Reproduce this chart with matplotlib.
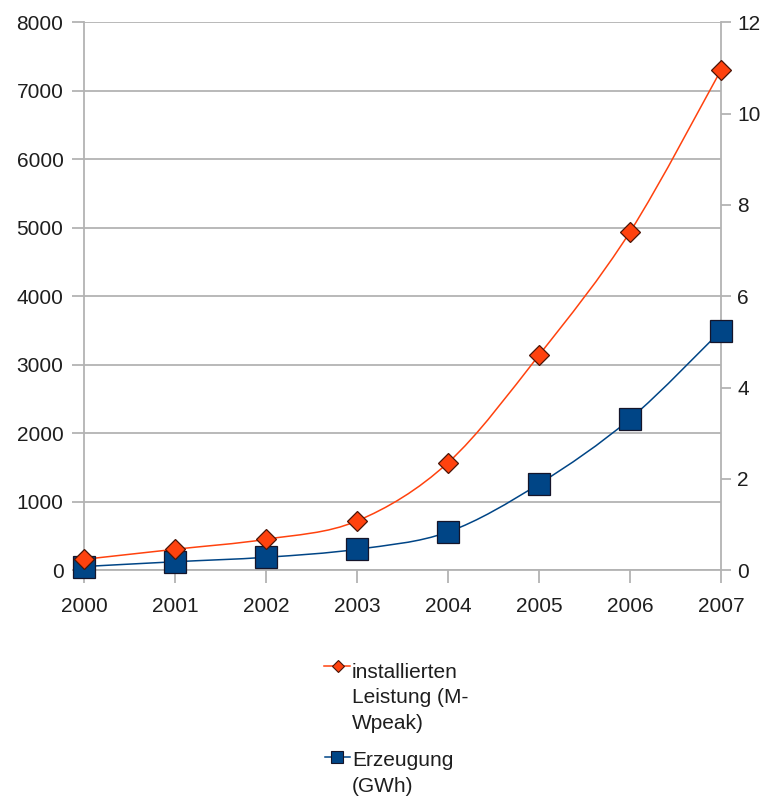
import matplotlib
matplotlib.use("Agg")
import matplotlib.pyplot as plt
from matplotlib.path import Path
from matplotlib.patches import PathPatch
from matplotlib.lines import Line2D
import numpy as np

plt.rcParams['font.family'] = ['Liberation Sans', 'DejaVu Sans']

years = [2000, 2001, 2002, 2003, 2004, 2005, 2006, 2007]
leistung = [160, 307, 453, 720, 1571, 3141, 4940, 7304]
erzeugung = [55, 125, 190, 307, 559, 1261, 2210, 3497]
left_ticks = [0, 1000, 2000, 3000, 4000, 5000, 6000, 7000, 8000]
right_ticks = [0, 2, 4, 6, 8, 10, 12]
label_red = "installierten\nLeistung (M-\nWpeak)"
label_blue = "Erzeugung\n(GWh)"

RED = "#FF420E"
BLUE = "#004586"
GRID = "#b3b3b3"
TXT = "#1e1e1e"
FS = 15

W, H = 767, 801
fig = plt.figure(figsize=(W / 100, H / 100), dpi=100)
ax = fig.add_axes([84 / W, 1 - 570.3 / H, 637 / W, 548 / H])


def smooth_path(xs, ys):
    p = np.column_stack([xs, ys]).astype(float)
    n = len(p)
    verts = [p[0]]
    codes = [Path.MOVETO]
    for i in range(n - 1):
        p0 = p[max(i - 1, 0)]
        p1 = p[i]
        p2 = p[i + 1]
        p3 = p[min(i + 2, n - 1)]
        c1 = p1 + (p2 - p0) / 6.0
        c2 = p2 - (p3 - p1) / 6.0
        verts += [c1, c2, p2]
        codes += [Path.CURVE4] * 3
    return Path(verts, codes)


for ys, col in [(erzeugung, BLUE), (leistung, RED)]:
    patch = PathPatch(smooth_path(years, ys), facecolor="none", edgecolor=col,
                      lw=1.1, zorder=3, clip_on=False)
    ax.add_patch(patch)

ax.plot(years, erzeugung, linestyle="none", marker="s", ms=15.5, mfc=BLUE,
        mec="#15152a", mew=0.9, zorder=4, clip_on=False)
ax.plot(years, leistung, linestyle="none", marker="D", ms=10.2, mfc=RED,
        mec="#4a1508", mew=0.9, zorder=5, clip_on=False)

ax.set_xlim(2000, 2007)
ax.set_ylim(0, 8000)
ax.set_xticks(years)
ax.set_xticklabels([str(y) for y in years])
ax.set_yticks(left_ticks)
ax.yaxis.grid(True, color=GRID, lw=1.3)
ax.xaxis.grid(False)
ax.set_axisbelow(True)
for s in ax.spines.values():
    s.set_color(GRID)
    s.set_linewidth(1.3)
ax.spines['top'].set_visible(False)
ax.tick_params(axis='both', colors=GRID, labelcolor=TXT, labelsize=FS, width=1.3)
ax.tick_params(axis='x', length=9, pad=10.4)
ax.tick_params(axis='y', length=8.6, pad=6.2)

ax2 = ax.twinx()
ax2.set_ylim(0, 12)
ax2.set_yticks(right_ticks)
for s in ax2.spines.values():
    s.set_visible(False)
ax2.tick_params(axis='y', colors=GRID, labelcolor=TXT, labelsize=FS,
                length=7.2, width=1.3, pad=4.5)


# legend (drawn manually in figure pixel coordinates)
def fx(px):
    return px / W


def fy(py):
    return 1 - py / H


fig.add_artist(Line2D([fx(324), fx(350)], [fy(666), fy(666)], color=RED, lw=1.1,
                      transform=fig.transFigure))
fig.add_artist(Line2D([fx(338)], [fy(666)], marker="D", ms=6.2, mfc=RED,
                      mec="#4a1508", mew=0.8, transform=fig.transFigure))
# va='baseline' aligns the baseline of the last line
fig.text(fx(352), fy(729), label_red, ha="left", va="baseline", fontsize=FS,
         color=TXT, linespacing=1.45, transform=fig.transFigure)

fig.add_artist(Line2D([fx(325), fx(350)], [fy(757), fy(757)], color=BLUE, lw=1.1,
                      transform=fig.transFigure))
fig.add_artist(Line2D([fx(337)], [fy(757)], marker="s", ms=8.5, mfc=BLUE,
                      mec="#15152a", mew=0.8, transform=fig.transFigure))
fig.text(fx(352), fy(792), label_blue, ha="left", va="baseline", fontsize=FS,
         color=TXT, linespacing=1.45, transform=fig.transFigure)

fig.savefig("out.png", dpi=100)
